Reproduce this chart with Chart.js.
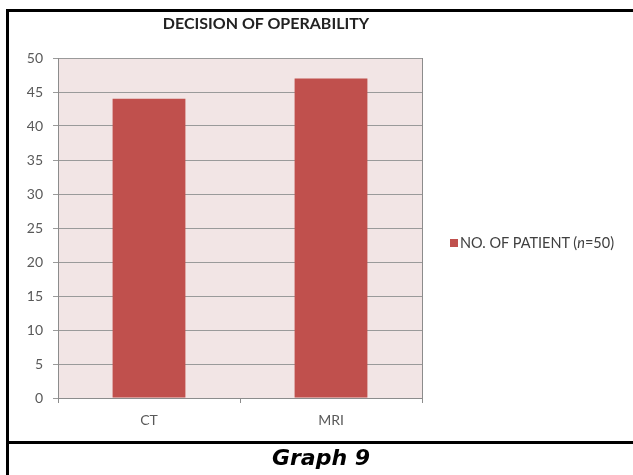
<!DOCTYPE html>
<html>
<head>
<meta charset="utf-8">
<script src="https://cdn.jsdelivr.net/npm/chart.js@4.4.1/dist/chart.umd.min.js"></script>
<style>
  html, body { margin: 0; padding: 0; background: #fff; }
  body { width: 633px; height: 475px; position: relative; overflow: hidden; }
  #frame-left { position: absolute; left: 6px; top: 9px; width: 3px; height: 466px; background: #000; }
  #frame-top { position: absolute; left: 6px; top: 9px; width: 627px; height: 3px; background: #000; }
  #frame-mid { position: absolute; left: 6px; top: 441px; width: 627px; height: 3px; background: #000; }
  #chart-wrap { position: absolute; left: 0; top: 0; width: 633px; height: 440px; }
  #chart-title {
    position: absolute; left: 146px; width: 240px; top: 13px; text-align: center;
    font: bold 16px Lato, "Open Sans", sans-serif; color: #222; white-space: nowrap;
  }
  #chart-legend {
    position: absolute; left: 450px; top: 234px; line-height: 17px;
    font: 14.5px Lato, "Open Sans", sans-serif; color: #404040; white-space: nowrap;
  }
  #chart-legend .swatch {
    display: inline-block; width: 8px; height: 8px; background: #c0504d;
    margin-right: 2px; vertical-align: 1px;
  }
  #caption {
    position: absolute; left: 9px; right: 0; top: 445px; text-align: center;
    font: italic bold 22px "DejaVu Sans", sans-serif; color: #000;
  }
</style>
</head>
<body>
<div id="chart-wrap"><canvas id="chart-operability" width="633" height="440"></canvas></div>
<div id="chart-title">DECISION OF OPERABILITY</div>
<div id="chart-legend"><span class="swatch"></span>NO. OF PATIENT (<i>n</i>=50)</div>
<div id="frame-left"></div>
<div id="frame-top"></div>
<div id="frame-mid"></div>
<div id="caption">Graph 9</div>

<script>
// 영상 검사별 수술 가능 판정 환자 수
const modalities = ["CT", "MRI"];
const patientCounts = [44, 47];
const yTicks = [0, 5, 10, 15, 20, 25, 30, 35, 40, 45, 50];

const BAR_COLOR = "#c0504d";
const AXIS_GRAY = "#8c8c8c";
const TEXT_GRAY = "#595959";

/** 플롯 영역 배경 + 오른쪽 테두리 */
const plotAreaBg = {
  id: "plotAreaBg",
  beforeDraw(chart) {
    const { ctx, chartArea: a } = chart;
    ctx.save();
    ctx.fillStyle = "#f2e5e5";
    ctx.fillRect(a.left, a.top, a.right - a.left, a.bottom - a.top);
    ctx.restore();
  },
  afterDatasetsDraw(chart) {
    const { ctx, chartArea: a } = chart;
    ctx.save();
    ctx.strokeStyle = AXIS_GRAY;
    ctx.lineWidth = 1;
    ctx.beginPath();
    ctx.moveTo(Math.round(a.right) + 0.5, a.top);
    ctx.lineTo(Math.round(a.right) + 0.5, a.bottom);
    ctx.stroke();
    ctx.restore();
  },
};

function renderOperability() {
  const canvas = document.getElementById("chart-operability");
  if (!canvas) return;

  const ctx = canvas.getContext("2d");
  new Chart(ctx, {
    type: "bar",
    data: {
      labels: modalities,
      datasets: [
        {
          label: "NO. OF PATIENT (n=50)",
          data: patientCounts,
          backgroundColor: BAR_COLOR,
          borderWidth: 0,
          categoryPercentage: 0.8,
          barPercentage: 0.5,
        },
      ],
    },
    options: {
      responsive: false,
      animation: false,
      layout: {
        padding: { top: 58, right: 211, bottom: 0, left: 0 },
      },
      scales: {
        x: {
          offset: true,
          afterFit: (s) => { s.height = 42; },
          grid: {
            offset: true,
            drawOnChartArea: false,
            drawTicks: true,
            tickLength: 5,
            color: AXIS_GRAY,
          },
          border: { display: true, color: AXIS_GRAY },
          ticks: {
            color: TEXT_GRAY,
            padding: 9,
            font: { family: "Lato", size: 14 },
          },
        },
        y: {
          min: 0,
          max: 50,
          afterFit: (s) => { s.width = 58; },
          afterBuildTicks: (s) => { s.ticks = yTicks.map((v) => ({ value: v })); },
          grid: {
            color: "#9a9a9a",
            tickLength: 5,
          },
          border: { display: true, color: AXIS_GRAY },
          ticks: {
            color: TEXT_GRAY,
            padding: 10,
            font: { family: "Lato", size: 14 },
          },
        },
      },
      plugins: {
        legend: { display: false },
        tooltip: { enabled: false },
      },
    },
    plugins: [plotAreaBg],
  });
}

document.addEventListener("DOMContentLoaded", renderOperability);
</script>
</body>
</html>
